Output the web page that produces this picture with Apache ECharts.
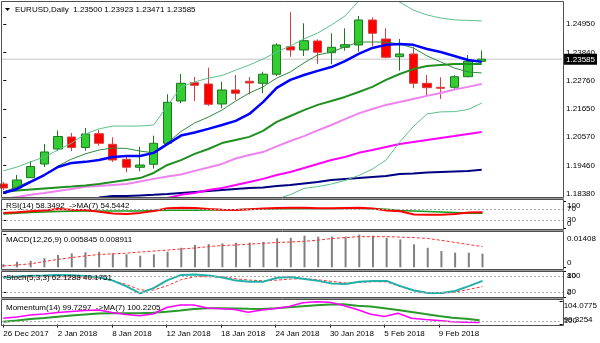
<!DOCTYPE html>
<html><head><meta charset="utf-8">
<script src="https://cdn.jsdelivr.net/npm/echarts@6/dist/echarts.min.js"></script>
<style>html,body{margin:0;padding:0;background:#fff}#c{width:600px;height:343px}</style>
</head><body><div id="c"></div>
<script>
// ---------------- data ----------------
const dates = ['26 Dec 2017','27 Dec 2017','28 Dec 2017','29 Dec 2017','2 Jan 2018','3 Jan 2018','4 Jan 2018','5 Jan 2018','8 Jan 2018','9 Jan 2018','10 Jan 2018','11 Jan 2018','12 Jan 2018','15 Jan 2018','16 Jan 2018','17 Jan 2018','18 Jan 2018','19 Jan 2018','22 Jan 2018','23 Jan 2018','24 Jan 2018','25 Jan 2018','26 Jan 2018','29 Jan 2018','30 Jan 2018','31 Jan 2018','1 Feb 2018','2 Feb 2018','5 Feb 2018','6 Feb 2018','7 Feb 2018','8 Feb 2018','9 Feb 2018','12 Feb 2018','13 Feb 2018','14 Feb 2018'];
const open  = [1.18742,1.18587,1.18986,1.19518,1.20100,1.20566,1.20158,1.20694,1.20282,1.19700,1.19390,1.19506,1.20321,1.21962,1.22672,1.22622,1.21846,1.22389,1.22727,1.22649,1.23002,1.24069,1.23941,1.24290,1.23836,1.24046,1.24135,1.25105,1.24368,1.23681,1.23786,1.22649,1.22494,1.22494,1.22905,1.23500];
const high  = [1.18820,1.19091,1.19634,1.20294,1.20818,1.20721,1.20915,1.20837,1.20554,1.19801,1.20189,1.20616,1.22222,1.23010,1.22894,1.23254,1.22711,1.22971,1.22894,1.23099,1.24201,1.25404,1.24977,1.24356,1.24589,1.24783,1.25260,1.25210,1.24783,1.24368,1.24069,1.22971,1.22882,1.22960,1.23747,1.23923];
const low   = [1.18509,1.18548,1.18975,1.19402,1.20022,1.20022,1.20034,1.20228,1.19596,1.19196,1.19235,1.19343,1.20313,1.21873,1.21962,1.21768,1.21679,1.22001,1.22215,1.22261,1.22932,1.23681,1.23708,1.23398,1.23386,1.23914,1.23875,1.24096,1.23619,1.23138,1.22455,1.22156,1.22040,1.22389,1.22882,1.23471];
const close = [1.18587,1.18897,1.19421,1.19984,1.20585,1.20158,1.20682,1.20321,1.19673,1.19390,1.19479,1.20321,1.21912,1.22649,1.22572,1.21834,1.22389,1.22261,1.22661,1.23002,1.24135,1.23941,1.24302,1.23852,1.24046,1.24147,1.25105,1.24589,1.23658,1.23786,1.22649,1.22478,1.22455,1.22905,1.23503,1.23585];

const ma5   = [1.1843,1.1863,1.1886,1.1909,1.1944,1.1971,1.1991,1.2006,1.2014,1.2012,1.2002,1.1995,1.2033,1.2078,1.2111,1.2134,1.2161,1.2196,1.2227,1.2251,1.2285,1.2309,1.2344,1.2375,1.2386,1.2406,1.2425,1.2425,1.2425,1.2417,1.2402,1.2371,1.2348,1.2324,1.2309,1.2305];
const ma10  = [1.1839,1.1855,1.1882,1.1909,1.1940,1.1956,1.1960,1.1967,1.1979,1.1983,1.1983,1.1995,1.2029,1.2062,1.2074,1.2088,1.2103,1.2119,1.2146,1.2192,1.2247,1.2278,1.2297,1.2313,1.2328,1.2351,1.2379,1.2402,1.2414,1.2417,1.2414,1.2398,1.2386,1.2371,1.2355,1.2348];
const ma20  = [1.1843,1.1849,1.1853,1.1857,1.1861,1.1864,1.1868,1.1874,1.1882,1.1890,1.1897,1.1917,1.1948,1.1967,1.1991,1.2010,1.2033,1.2045,1.2057,1.2080,1.2115,1.2138,1.2161,1.2181,1.2196,1.2212,1.2231,1.2251,1.2278,1.2301,1.2320,1.2332,1.2336,1.2340,1.2340,1.2340];
const bbUpper = [1.1925,1.1940,1.1960,1.1979,1.2006,1.2033,1.2068,1.2088,1.2099,1.2099,1.2099,1.2103,1.2177,1.2250,1.2270,1.2285,1.2295,1.2316,1.2336,1.2359,1.2386,1.2410,1.2437,1.2460,1.2491,1.2526,1.2584,1.2608,1.2608,1.2580,1.2549,1.2530,1.2518,1.2511,1.2509,1.2507];
const bbLower = [null,null,null,null,null,null,null,null,null,null,null,null,null,null,null,null,null,null,null,1.1800,1.1816,1.1833,1.1857,1.1864,1.1874,1.1888,1.1907,1.1932,1.1967,1.2037,1.2097,1.2146,1.2154,1.2155,1.2163,1.2188];
const ma50  = [1.1816,1.1824,1.1832,1.1839,1.1847,1.1855,1.1863,1.1866,1.1870,1.1874,1.1884,1.1894,1.1903,1.1911,1.1925,1.1938,1.1952,1.1973,1.1987,1.1998,1.2020,1.2041,1.2060,1.2082,1.2103,1.2126,1.2148,1.2165,1.2181,1.2192,1.2204,1.2216,1.2227,1.2241,1.2251,1.2262];
const ma100 = [null,null,null,null,null,null,null,null,null,null,1.1797,1.1808,1.1820,1.1832,1.1839,1.1851,1.1859,1.1870,1.1882,1.1894,1.1909,1.1921,1.1936,1.1952,1.1967,1.1979,1.1995,1.2006,1.2018,1.2029,1.2037,1.2045,1.2053,1.2060,1.2068,1.2076];
const ma200 = [null,null,null,null,null,null,null,1.1822,1.1828,1.1828,1.1830,1.1832,1.1835,1.1839,1.1843,1.1847,1.1851,1.1855,1.1859,1.1861,1.1866,1.1870,1.1876,1.1882,1.1890,1.1894,1.1897,1.1901,1.1905,1.1913,1.1915,1.1919,1.1921,1.1923,1.1925,1.1929];

const rsi   = [55.7,58,62,65,70,68,67,60,54,52,56,63,73,75,74,70,68,67,69,72,74,75,75,73,73,74,75,72,65,62,50,49,49,52,57,58.3492];
const rsiMa = [52,55,57,59,61,62,63,63,63,63,63,65,66,66,66,67,68,68,69,70,70,71,71,71,71,72,72,71,69,65,63,61,59,57,55,54.5442];
const macdHist = [0.0013,0.0024,0.0028,0.0039,0.0053,0.0060,0.0065,0.0067,0.0060,0.0056,0.0050,0.0056,0.0067,0.0084,0.0096,0.0100,0.0103,0.0106,0.0106,0.0110,0.0125,0.0127,0.0136,0.0132,0.0132,0.0132,0.01408,0.0136,0.0127,0.0120,0.0099,0.0084,0.0070,0.0063,0.0063,0.005845];
const macdSignal = [0.0006,0.0010,0.0015,0.0025,0.0034,0.0042,0.0049,0.0055,0.0058,0.0061,0.0066,0.0070,0.0074,0.0079,0.0083,0.0089,0.0094,0.0096,0.0100,0.0103,0.0107,0.0109,0.0112,0.0117,0.0124,0.0128,0.0132,0.0132,0.0132,0.0130,0.0128,0.0124,0.0116,0.0107,0.0098,0.008911];
const stochK = [74,79,82,83,85,84,81,76,63,41,14,35,65,85,87,83,75,63,59,59,74,77,69,62,52,50,59,62,62,42,25,15,15,23,42,62.1288];
const stochD = [74,76,77,78,78,76,74,72,63,48,27,27,44,67,78,78,78,70,65,62,65,69,71,66,60,54,56,59,58,40,25,17,14,19,29,40.1751];
const momentum = [100.61,100.87,101.29,101.49,101.80,102.01,102.22,102.32,101.80,101.39,101.14,101.49,102.84,103.35,103.35,102.73,102.59,102.42,101.85,102.32,102.63,103.04,103.81,104.02,103.93,103.25,102.42,101.43,100.98,101.64,100.61,100.36,100.15,99.90,99.78,99.7297];
const momentumMa = [99.90,100.15,100.46,100.67,100.94,101.18,101.39,101.60,101.64,101.64,101.64,101.74,101.95,102.22,102.53,102.67,102.67,102.63,102.57,102.53,102.69,102.88,103.11,103.29,103.48,103.50,103.18,103.04,102.69,102.32,101.91,101.49,101.08,100.71,100.50,100.2205];

const priceTicks = [1.18380,1.19460,1.20570,1.21650,1.22760,1.23840,1.24950];
const dateTicks = [0,4,8,12,16,20,24,28,32];
const rsiLevels = [30,70];
const stochLevels = [20,80];
const momLevels = [100];

// ---------------- chart ----------------
const FONT = '"Liberation Sans", Arial, sans-serif';
const FS = 8;
const X_MIN = -0.095, X_MAX = 40.88;
const GL = 2, GW = 561;
const grids = [
  {top:2, height:195},      // 0 main
  {top:201, height:27},     // 1 rsi
  {top:234.6, height:32.7}, // 2 macd
  {top:271, height:26},     // 3 stoch
  {top:301.5, height:23}    // 4 momentum
];
const ranges = [[1.18237,1.25803],[0,100],[0,0.01408],[0,100],[99.3254,104.0775]];
const last = close.length-1;
const labelStyle = {fontSize:FS, fontFamily:FONT, color:'#000'};
const pts = arr => arr.map((v,i)=> v==null?null:[i,v]).filter(Boolean);

const xAxes = grids.map((g,gi)=>({
  type:'value', gridIndex:gi, min:X_MIN, max:X_MAX, show: gi===4,
  axisLine:{show:false}, splitLine:{show:false},
  axisTick:{show:true, customValues:dateTicks, length:3, lineStyle:{color:'#000'}},
  axisLabel:Object.assign({customValues:dateTicks, formatter:v=>dates[v], align:'left', margin:5,
    showMinLabel:true, showMaxLabel:true}, labelStyle)
}));

// y axes: one for inner labels, separate ones for edge labels (shifted inside like the original)
const yAxes = [];
function addY(gi, values, fmt, shift, extraLabel, tick) {
  const [mn,mx] = ranges[gi];
  const pad = shift==='t' ? [9,0,0,0] : shift==='b' ? [0,0,9,0] : [0,0,0,0];
  yAxes.push({
    type:'value', gridIndex:gi, position:'right', min:mn, max:mx,
    axisLine:{show:false}, splitLine:{show:false},
    axisTick:{show:tick!==false, customValues:values, length:3, inside:false, lineStyle:{color:'#000'}},
    axisLabel:Object.assign({customValues:values, margin:4, showMinLabel:true, showMaxLabel:true,
      formatter: v => shift ? '{s|'+fmt(v)+'}' : fmt(v),
      rich:{s:Object.assign({padding:pad}, labelStyle)}}, labelStyle, extraLabel||{})
  });
  return yAxes.length-1;
}
const Y_MAIN = addY(0, priceTicks, v=>v.toFixed(5));
const Y_PRICE = addY(0, [close[last]], v=>v.toFixed(5), null,
  {backgroundColor:'#000', color:'#fff', padding:[2,2,1,2], margin:2}, false);
const Y_RSI = addY(1, rsiLevels, v=>String(v));
addY(1, [100], v=>String(v), 't'); addY(1, [0], v=>String(v), 'b');
const Y_MACD = addY(2, [0.01408], v=>v.toFixed(5), 't');
addY(2, [0], v=>'0', 'b');
const Y_STO = addY(3, stochLevels, v=>String(v));
addY(3, [100], v=>String(v), 't'); addY(3, [0], v=>String(v), 'b');
const Y_MOM = addY(4, momLevels, v=>String(v));
addY(4, [104.0775], v=>String(v), 't'); addY(4, [99.3254], v=>String(v), 'b');

function line(data, xi, yi, color, width, extra) {
  return Object.assign({
    type:'line', xAxisIndex:xi, yAxisIndex:yi, data:pts(data), symbol:'none', showSymbol:false,
    lineStyle:{color:color, width:width}, silent:true, z:3, clip:true
  }, extra||{});
}
function levels(vals) {
  return {symbol:'none', silent:true, label:{show:false},
    lineStyle:{color:'#a8a8a8', type:[2,2], width:1}, data: vals.map(v=>({yAxis:v}))};
}
const dashed = {width:1, type:[3,2], color:'#ff3030'};

const series = [
  // current price line, spans the full x range at the last close
  {type:'line', xAxisIndex:0, yAxisIndex:Y_MAIN, data:[[X_MIN, close[last]],[X_MAX, close[last]]],
   symbol:'none', silent:true, z:1, lineStyle:{color:'#c4c4c4', width:1}},
  {type:'candlestick', xAxisIndex:0, yAxisIndex:Y_MAIN,
   data: open.map((o,i)=>[i,o,close[i],low[i],high[i]]), encode:{x:0,y:[1,2,3,4]},
   barWidth:9, silent:true, z:2,
   itemStyle:{color:'#33cc33', color0:'#ff0000', borderColor:'#1c7a1c', borderColor0:'#d84040', borderWidth:1}},
  line(ma200, 0, Y_MAIN, '#000080', 2),
  line(ma100, 0, Y_MAIN, '#ff00ff', 2),
  line(ma50, 0, Y_MAIN, '#ee82ee', 2),
  line(bbUpper, 0, Y_MAIN, '#5cc08c', 1),
  line(bbLower, 0, Y_MAIN, '#5cc08c', 1),
  line(ma20, 0, Y_MAIN, '#1f8f1f', 2),
  line(ma5, 0, Y_MAIN, '#2e8b3e', 1),
  line(ma10, 0, Y_MAIN, '#0000ff', 2.5),
  // RSI
  line(rsiMa, 1, Y_RSI, '#1a9a1a', 1.5, {markLine:levels(rsiLevels)}),
  line(rsi, 1, Y_RSI, '#ff0000', 2),
  // MACD
  {type:'bar', xAxisIndex:2, yAxisIndex:Y_MACD, data:pts(macdHist), barWidth:2, itemStyle:{color:'#808080'}, silent:true},
  line(macdSignal, 2, Y_MACD, '#ff3030', 1, {lineStyle:dashed}),
  // Stoch
  line(stochD, 3, Y_STO, '#ff3030', 1, {lineStyle:dashed, markLine:levels(stochLevels)}),
  line(stochK, 3, Y_STO, '#20b2aa', 2),
  // Momentum
  line(momentumMa, 4, Y_MOM, '#2a9a2a', 2, {markLine:levels(momLevels)}),
  line(momentum, 4, Y_MOM, '#ff00ff', 1.5)
];

const frames = [[1.5,197.5],[199.5,229.5],[231.5,269.5],[271.5,297.5],[299.5,325.5]];
const graphic = [];
frames.forEach(([a,b])=>{
  graphic.push({type:'rect', silent:true, z:100, shape:{x:1.5,y:a,width:562,height:b-a},
    style:{fill:'none', stroke:'#505050', lineWidth:1}});
});
for (let i=0;i<frames.length-1;i++){
  graphic.push({type:'rect', silent:true, z:99, shape:{x:1,y:frames[i][1]+0.5,width:563,height:frames[i+1][0]-frames[i][1]-1},
    style:{fill:'#9a9a9a'}});
}
const txt = (s,x,y)=>({type:'text', silent:true, z:101, x:x, y:y,
  style:{text:s, fill:'#000', font:FS+'px '+FONT, verticalAlign:'middle'}});
graphic.push({type:'polygon', silent:true, z:101, shape:{points:[[5,8],[10,8],[7.5,11]]}, style:{fill:'#000'}});
graphic.push(txt('EURUSD,Daily  '+[open[last],high[last],low[last],close[last]].map(v=>v.toFixed(5)).join(' '), 15, 10));
graphic.push(txt('RSI(14) 58.3492  ->MA(7) 54.5442', 6, 206));
graphic.push(txt('MACD(12,26,9) 0.005845 0.008911', 6, 240));
graphic.push(txt('Stoch(5,3,3) 62.1288 40.1751', 6, 278));
graphic.push(txt('Momentum(14) 99.7297  ->MA(7) 100.2205', 6, 307.5));

const chart = echarts.init(document.getElementById('c'), null, {renderer:'canvas'});
chart.setOption({
  animation:false,
  backgroundColor:'#fff',
  grid: grids.map(g=>({left:GL, top:g.top, width:GW, height:g.height, containLabel:false})),
  xAxis: xAxes,
  yAxis: yAxes,
  series: series,
  graphic: graphic
});
</script></body></html>
